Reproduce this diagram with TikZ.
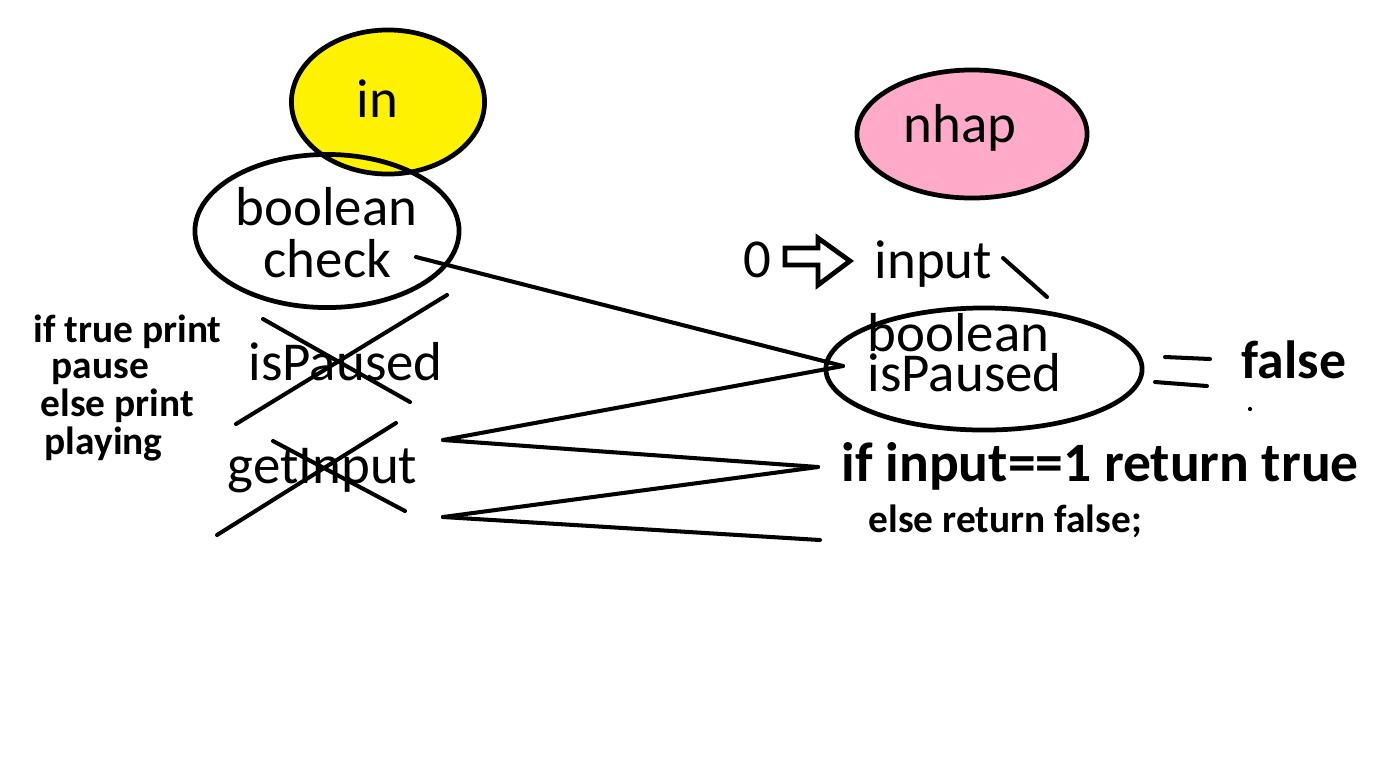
\documentclass[tikz,border=0pt]{standalone}
\usepackage{fontspec}
\setmainfont{Carlito}
\usetikzlibrary{positioning,shapes.geometric}
\definecolor{inyellow}{RGB}{255,242,0}
\definecolor{nhappink}{RGB}{255,170,201}

\begin{document}
\begin{tikzpicture}[x=0.01cm,y=-0.01cm,line width=1pt,
                    oval/.style={ellipse,draw,line width=1.35pt,inner sep=0pt},
                    big/.style={anchor=base west,inner sep=0pt,font=\fontsize{15.6}{15}\selectfont},
                    note/.style={anchor=base west,inner sep=0pt,font=\fontsize{11.2}{12}\selectfont\bfseries},
                    loud/.style={anchor=base west,inner sep=0pt,font=\fontsize{15.6}{15}\selectfont\bfseries},
                    stroke/.style={line width=1.15pt,line cap=round}]

  \useasboundingbox (0,0) rectangle (1391,772);

  % the two coloured ovals and the two plain ones
  \node[oval,fill=inyellow,minimum width=1.93cm,minimum height=1.44cm] (in) at (388,102) {};
  \node[oval,minimum width=2.64cm,minimum height=1.53cm] (check) at (327,231) {};
  \node[oval,fill=nhappink,minimum width=2.30cm,minimum height=1.28cm] (nhap) at (972,134) {};
  \node[oval,minimum width=3.16cm,minimum height=1.22cm] (paused) at (984,369) {};

  % texts
  \node[big] (in text) at (355,117) {in};
  \node[big] (nhap text) at (902,142) {nhap};
  \node[big] (bool1) at (234,225) {boolean};
  \node[big] (chk) at (262,277) {check};
  \node[big] (isp1) at (247,380) {isPaused};
  \node[big] (getin) at (226,483) {getInput};
  \node[big] (zero) at (742,277) {0};
  \node[big] (input) at (873,278) {input};
  \node[big] (bool2) at (866,351) {boolean};
  \node[big] (isp2) at (866,391) {isPaused};

  \node[note] (note1) at (32,342) {if true print};
  \node[note] (note2) at (50,378) {pause};
  \node[note] (note3) at (39,416) {else print};
  \node[note] (note4) at (43,454) {playing};

  \node[loud,font=\fontsize{15.3}{15}\selectfont\bfseries] (false) at (1240,378) {false};
  \node[loud,font=\fontsize{15.8}{15}\selectfont\bfseries] (ifin) at (840,481) {if input==1 return true};
  \node[note] (elsef) at (867,532) {else return false;};

  % hollow arrow 0 -> input
  \draw[line width=1.35pt,line join=miter] (785,248) -- (818,248) -- (818,238) -- (850,261)
        -- (818,285) -- (818,265) -- (785,265) -- cycle;

  % free ends of the hand drawn strokes
  \coordinate (c1) at (416,257);
  \coordinate (c2) at (843,366);
  \coordinate (g1) at (443,440);
  \coordinate (g2) at (443,517);
  \coordinate (t1) at (818,467);
  \coordinate (t2) at (820,540);
  \coordinate (p1) at (1003,258);
  \coordinate (p2) at (1047,297);

  \draw[stroke] (c1) -- (c2);
  \draw[stroke] (g1) -- (c2);
  \draw[stroke] (g1) -- (t1);
  \draw[stroke] (g2) -- (t1);
  \draw[stroke] (g2) -- (t2);
  \draw[stroke] (p1) -- (p2);

  % crossed out names
  \draw[stroke] (263,319) -- (410,402);
  \draw[stroke] (236,424) -- (447,295);
  \draw[stroke] (273,441) -- (405,511);
  \draw[stroke] (217,535) -- (396,423);

  % equals sign before false
  \draw[stroke] (1165,357) -- (1210,359);
  \draw[stroke] (1155,382) -- (1207,386);
  \fill (1250,409) circle (0.6pt);

\end{tikzpicture}
\end{document}
